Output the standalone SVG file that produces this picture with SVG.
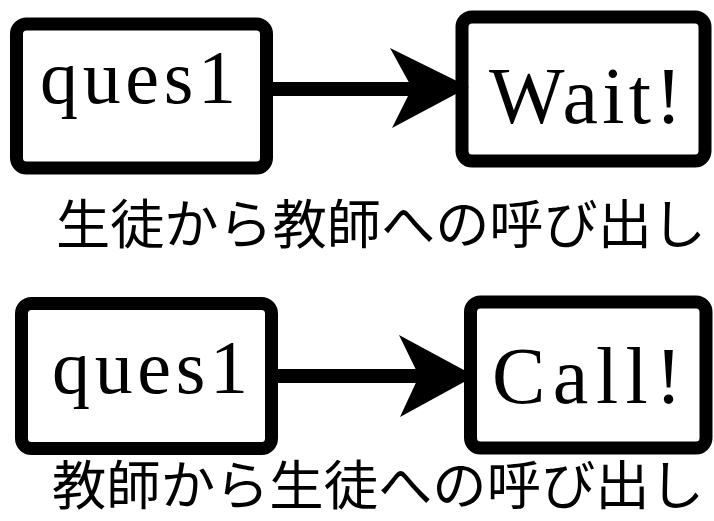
<svg xmlns="http://www.w3.org/2000/svg" width="714" height="521" viewBox="0 0 714 521">
<style>
.box{fill:#fff;stroke:#000;stroke-width:13}
.lbl{font-family:"Liberation Serif",serif;font-size:76px;fill:#000}
.lbl2{font-family:"Liberation Serif",serif;font-size:80px;fill:#000}
.cap{font-family:"Noto Sans CJK JP",sans-serif;font-size:53px;fill:#000}
.conn{stroke:#000;stroke-width:14;fill:none}
</style>
<rect width="714" height="521" fill="#fff"/>
<g id="n1"><rect class="box" x="16.5" y="24" width="250" height="144" rx="10"/><text class="lbl" x="40" y="103" textLength="196" lengthAdjust="spacing">ques1</text></g>
<g id="n2"><rect class="box" x="462" y="17" width="243" height="144" rx="10"/><text class="lbl2" x="489" y="123" textLength="193" lengthAdjust="spacing">Wait!</text></g>
<g id="n3"><rect class="box" x="21.5" y="303.5" width="250" height="145" rx="10"/><text class="lbl" x="52" y="393" textLength="196" lengthAdjust="spacing">ques1</text></g>
<g id="n4"><rect class="box" x="470.5" y="302" width="235.5" height="146" rx="10"/><text class="lbl2" x="492" y="403" textLength="190" lengthAdjust="spacing">Call!</text></g>
<g id="connectors">
<line class="conn" x1="273" y1="89" x2="415" y2="89"/>
<polygon points="469,87 390,48 412,88 392,128"/>
<line class="conn" x1="278" y1="376" x2="422" y2="376"/>
<polygon points="475,376 399,335 419,376 400,417"/>
</g>
<text class="cap" x="56" y="244" textLength="650" lengthAdjust="spacingAndGlyphs">生徒から教師への呼び出し</text>
<text class="cap" x="52" y="505" textLength="652" lengthAdjust="spacingAndGlyphs">教師から生徒への呼び出し</text>
</svg>
